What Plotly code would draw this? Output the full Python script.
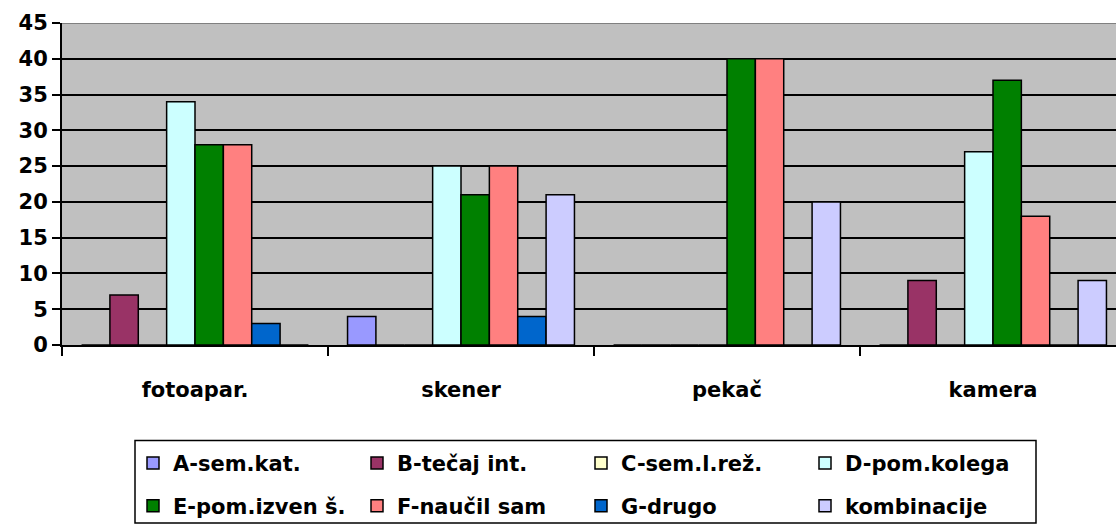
import plotly.graph_objects as go

# Categories (devices) and counts per source of knowledge
categories = ["fotoapar.", "skener", "pekač", "kamera"]

series_names = [
    "A-sem.kat.", "B-tečaj int.", "C-sem.l.rež.", "D-pom.kolega",
    "E-pom.izven š.", "F-naučil sam", "G-drugo", "kombinacije",
]

a_sem_kat = [0, 4, 0, 0]
b_tecaj_int = [7, 0, 0, 9]
c_sem_l_rez = [0, 0, 0, 0]
d_pom_kolega = [34, 25, 0, 27]
e_pom_izven = [28, 21, 40, 37]
f_naucil_sam = [28, 25, 40, 18]
g_drugo = [3, 4, 0, 0]
kombinacije = [0, 21, 20, 9]

y_ticks = [0, 5, 10, 15, 20, 25, 30, 35, 40, 45]

series_values = [a_sem_kat, b_tecaj_int, c_sem_l_rez, d_pom_kolega,
                 e_pom_izven, f_naucil_sam, g_drugo, kombinacije]
colors = ["#9999FF", "#993366", "#FFFFCC", "#CCFFFF",
          "#008000", "#FF8080", "#0066CC", "#CCCCFF"]

W, H = 1116, 527
M_L, M_R, M_T, M_B = 62, 0, 23, 180
plot_w = W - M_L - M_R
plot_h = H - M_T - M_B


def px_to_paper_x(px):
    return (px - M_L) / plot_w


def px_to_paper_y(py):
    return (H - M_B - py) / plot_h


FONT = dict(family="DejaVu Sans", size=21, color="black", weight="bold")

fig = go.Figure()
for i, (name, vals, col) in enumerate(zip(series_names, series_values, colors)):
    fig.add_trace(go.Bar(
        x=categories, y=vals, name=name,
        marker=dict(color=col, line=dict(color="black", width=1.5)),
        legend="legend" if i < 4 else "legend2",
    ))

# category width in px -> visible x range (last category is clipped at the right)
cat_px = 266
x_hi = -0.5 + plot_w / cat_px

legend_common = dict(
    orientation="h", font=FONT, bgcolor="rgba(0,0,0,0)", borderwidth=0,
    entrywidth=179, entrywidthmode="pixels", xanchor="left", yanchor="middle",
    traceorder="normal",
)

fig.update_layout(
    width=W, height=H,
    margin=dict(l=M_L, r=M_R, t=M_T, b=M_B),
    paper_bgcolor="white", plot_bgcolor="#C0C0C0",
    barmode="group", bargap=0.147, bargroupgap=0,
    font=FONT,
    showlegend=True,
    legend=dict(legend_common, x=px_to_paper_x(133), y=px_to_paper_y(466)),
    legend2=dict(legend_common, x=px_to_paper_x(133), y=px_to_paper_y(509)),
    xaxis=dict(
        range=[-0.5, x_hi], showgrid=False, tickson="boundaries",
        ticks="outside", ticklen=9, tickwidth=2, tickcolor="black",
        showline=True, linecolor="black", linewidth=2,
        tickfont=FONT, ticklabelstandoff=25,
    ),
    yaxis=dict(
        range=[0, 45], tickvals=y_ticks, showgrid=True,
        gridcolor="black", gridwidth=1.5, zeroline=False,
        ticks="outside", ticklen=8, tickwidth=2, tickcolor="black",
        showline=True, linecolor="black", linewidth=2,
        tickfont=FONT,
    ),
    shapes=[
        # plot area top border
        dict(type="line", xref="paper", yref="y", x0=0, x1=1, y0=45, y1=45,
             line=dict(color="#808080", width=2), layer="above"),
        # legend frame
        dict(type="rect", xref="paper", yref="paper",
             x0=px_to_paper_x(135), x1=px_to_paper_x(1036),
             y0=px_to_paper_y(526), y1=px_to_paper_y(443),
             line=dict(color="black", width=1.5), fillcolor="white",
             layer="below"),
    ],
)

fig.write_html("out.html")
